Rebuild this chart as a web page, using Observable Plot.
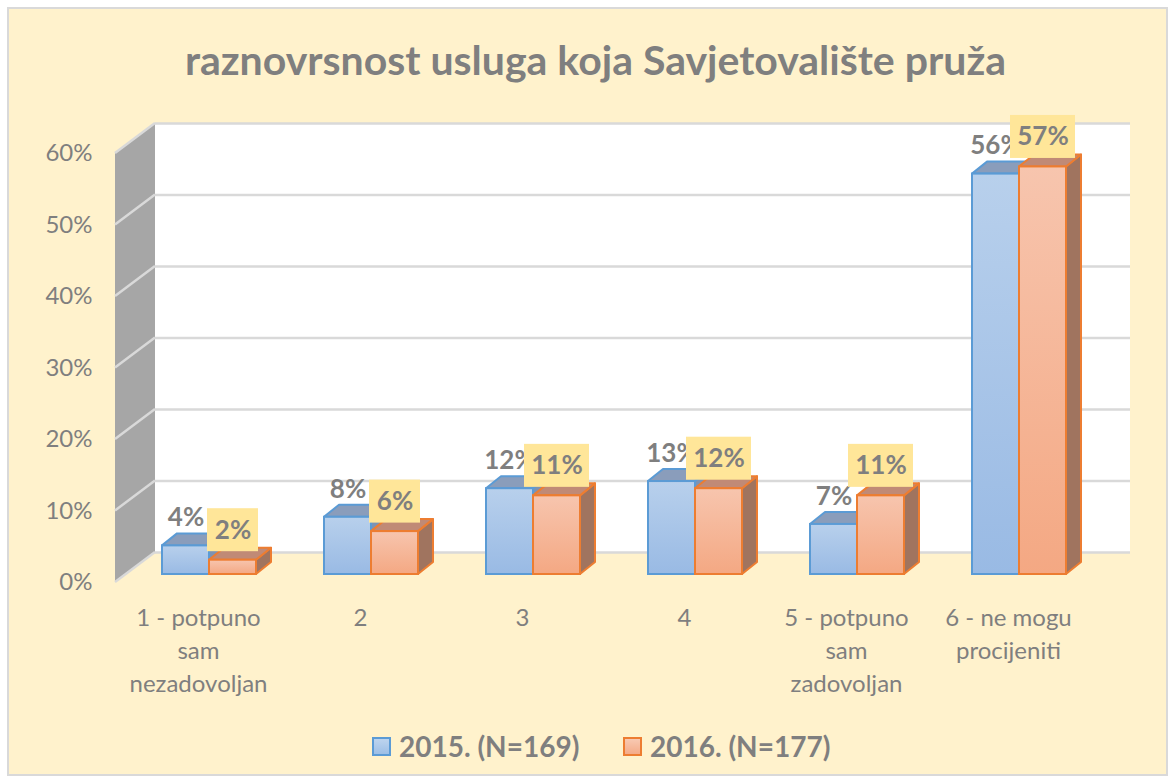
<!DOCTYPE html>
<html>
<head>
<meta charset="utf-8">
<script src="https://cdn.jsdelivr.net/npm/d3@7"></script>
<script src="https://cdn.jsdelivr.net/npm/@observablehq/plot@0.6"></script>
<style>
  html, body { margin: 0; padding: 0; background: #ffffff; }
  #page { position: relative; width: 1175px; height: 782px; overflow: hidden; font-family: Lato, "Open Sans", sans-serif; }
  #frame { position: absolute; left: 7px; top: 7px; width: 1161px; height: 769px; box-sizing: border-box; border: 2px solid #D9D9D9; background: #FFF2CC; }
  #title { position: absolute; left: 8px; top: 38px; width: 1175px; text-align: center; font-weight: 700; font-size: 41px; line-height: 44px; color: #7F7F7F; }
  #chart { position: absolute; left: 0; top: 100px; }
  .leg { position: absolute; top: 730px; display: flex; align-items: center; font-weight: 700; font-size: 28px; color: #7F7F7F; line-height: 32px; }
  .sw { width: 15px; height: 15px; margin-right: 8px; box-sizing: content-box; }
</style>
</head>
<body>
<div id="page">
  <div id="frame"></div>
  <div id="title"></div>
  <div id="chart"></div>
  <div class="leg" id="leg0" style="left:372px"><div class="sw" style="background:linear-gradient(#BDD4EE,#9DBFE6);border:2px solid #5B9BD5"></div><span></span></div>
  <div class="leg" id="leg1" style="left:623px"><div class="sw" style="background:linear-gradient(#F8C9B2,#F4AB88);border:2px solid #ED7D31"></div><span></span></div>
</div>
<script>
const titleText = "raznovrsnost usluga koja Savjetovalište pruža";
const categories = ["1 - potpuno sam nezadovoljan", "2", "3", "4", "5 - potpuno sam zadovoljan", "6 - ne mogu procijeniti"];
const tickLabels = ["1 - potpuno\nsam\nnezadovoljan", "2", "3", "4", "5 - potpuno\nsam\nzadovoljan", "6 - ne mogu\nprocijeniti"];
const seriesNames = ["2015. (N=169)", "2016. (N=177)"];
const values2015 = [0.04, 0.08, 0.12, 0.13, 0.07, 0.56];
const values2016 = [0.02, 0.06, 0.11, 0.12, 0.11, 0.57];
const yTicks = [0, 0.1, 0.2, 0.3, 0.4, 0.5, 0.6];

document.getElementById("title").textContent = titleText;
document.querySelector("#leg0 span").textContent = seriesNames[0];
document.querySelector("#leg1 span").textContent = seriesNames[1];

const data2015 = categories.map((c, i) => ({cat: c, v: values2015[i]}));
const data2016 = categories.map((c, i) => ({cat: c, v: values2016[i]}));

const NS = "http://www.w3.org/2000/svg";
const pct = d3.format(".0%");
// depth offsets (pseudo 3D)
const WALL_DX = 40, WALL_DY = -30;   // back wall
const BAR_DX = 11, BAR_DY = -8;      // bar front plane
const DEP_DX = 15, DEP_DY = -12;     // bar depth

function el(name, attrs) {
  const e = document.createElementNS(NS, name);
  for (const k in attrs) e.setAttribute(k, attrs[k]);
  return e;
}
function poly(pts, fill, stroke) {
  return el("polygon", {points: pts.map(p => p.join(",")).join(" "), fill, stroke: stroke || "none", "stroke-width": stroke ? 2 : 0, "stroke-linejoin": "round"});
}

function defsMark() {
  const g = el("g", {});
  const defs = el("defs", {});
  const mk = (id, c0, c1) => {
    const lg = el("linearGradient", {id, x1: 0, y1: 0, x2: 0, y2: 1});
    lg.appendChild(el("stop", {offset: "0%", "stop-color": c0}));
    lg.appendChild(el("stop", {offset: "100%", "stop-color": c1}));
    defs.appendChild(lg);
  };
  mk("gBlue", "#B8D0EC", "#99BAE4");
  mk("gOrange", "#F7C5AE", "#F4A883");
  g.appendChild(defs);
  return g;
}

function wallsMark(index, {x, y}, values, dims) {
  const g = el("g", {});
  const L = dims.marginLeft, R = dims.width - dims.marginRight;
  const T = y(0.6), B = y(0);
  g.appendChild(el("rect", {x: L + WALL_DX, y: T + WALL_DY, width: R - L, height: B - T, fill: "#FFFFFF"}));
  g.appendChild(poly([[L, B], [L, T], [L + WALL_DX, T + WALL_DY], [L + WALL_DX, B + WALL_DY]], "#A6A6A6"));
  for (const t of yTicks) {
    g.appendChild(el("line", {x1: L, y1: y(t), x2: L + WALL_DX, y2: y(t) + WALL_DY, stroke: "#D9D9D9", "stroke-width": 2.5}));
  }
  return g;
}

function facesMark(data, right, topFill, sideFill, stroke) {
  return (index, {x, y}) => {
    const g = el("g", {});
    const bw = x.bandwidth ? x.bandwidth() : 94;
    const half = bw / 2;
    for (const d of data) {
      const x0 = x(d.cat) + (right ? half : 0) + BAR_DX;
      const x1 = x0 + half;
      const yt = y(d.v) + BAR_DY;
      const yb = y(0) + BAR_DY;
      g.appendChild(poly([[x1, yt], [x1 + DEP_DX, yt + DEP_DY], [x1 + DEP_DX, yb + DEP_DY], [x1, yb]], sideFill, stroke));
      g.appendChild(poly([[x0, yt], [x0 + DEP_DX, yt + DEP_DY], [x1 + DEP_DX, yt + DEP_DY], [x1, yt]], topFill, stroke));
    }
    return g;
  };
}

function labelBoxMark(data) {
  return (index, {x, y}) => {
    const g = el("g", {});
    const bw = x.bandwidth ? x.bandwidth() : 94;
    for (const d of data) {
      const cx = x(d.cat) + bw * 0.75 + BAR_DX;
      const cy = y(d.v) + BAR_DY - 30;
      const w = 14 * pct(d.v).length + 23, h = 43;
      g.appendChild(el("rect", {x: cx - w / 2, y: cy - h / 2, width: w, height: h, fill: "#FFE699"}));
    }
    return g;
  };
}

const BW_HALF = 47;

const chart = Plot.plot({
  width: 1175,
  height: 615,
  marginLeft: 115,
  marginRight: 85,
  marginTop: 53,
  marginBottom: 133,
  style: {background: "transparent", fontFamily: "Lato, 'Open Sans', sans-serif", overflow: "visible"},
  x: {domain: categories, paddingInner: 0.42, paddingOuter: 0.21, align: 0.5, axis: null},
  y: {domain: [0, 0.6], axis: null},
  marks: [
    defsMark,
    wallsMark,
    Plot.ruleY(yTicks, {dx: WALL_DX, dy: WALL_DY, stroke: "#D9D9D9", strokeWidth: 2.5, strokeOpacity: 1}),
    Plot.axisY(yTicks, {tickFormat: pct, tickSize: 0, tickPadding: 23, fontSize: 24, color: "#7F7F7F", label: null}),
    Plot.axisX({tickFormat: (d) => tickLabels[categories.indexOf(d)], tickSize: 0, tickPadding: 20, fontSize: 24, lineHeight: 1.375, color: "#7F7F7F", label: null}),
    facesMark(data2015, false, "#8A9DBB", "#7D93B3", "#5B9BD5"),
    Plot.barY(data2015, {x: "cat", y: "v", fill: "url(#gBlue)", stroke: "#5B9BD5", strokeWidth: 2, insetLeft: 0, insetRight: BW_HALF, dx: BAR_DX, dy: BAR_DY}),
    facesMark(data2016, true, "#C08A76", "#A0745F", "#ED7D31"),
    Plot.barY(data2016, {x: "cat", y: "v", fill: "url(#gOrange)", stroke: "#ED7D31", strokeWidth: 2, insetLeft: BW_HALF, insetRight: 0, dx: BAR_DX, dy: BAR_DY}),
    Plot.text(data2015, {x: "cat", y: "v", text: d => pct(d.v), dx: BAR_DX - 23.5, dy: BAR_DY - 28, fontSize: 26, fontWeight: 700, fill: "#7F7F7F"}),
    labelBoxMark(data2016),
    Plot.text(data2016, {x: "cat", y: "v", text: d => pct(d.v), dx: BAR_DX + 23.5, dy: BAR_DY - 30, fontSize: 26, fontWeight: 700, fill: "#7F7F7F"})
  ]
});
document.getElementById("chart").appendChild(chart);
</script>
</body>
</html>
